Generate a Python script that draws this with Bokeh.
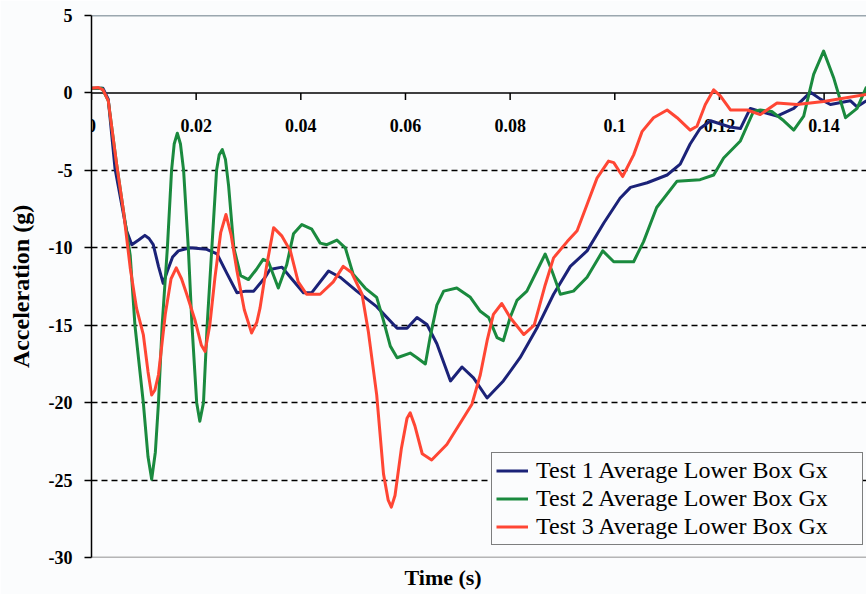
from bokeh.plotting import figure
from bokeh.models import FixedTicker, Span, Title
from bokeh.core.properties import value
from bokeh.embed import file_html
from bokeh.resources import INLINE

# ---------------- data ----------------
time_ticks = [0, 0.02, 0.04, 0.06, 0.08, 0.1, 0.12, 0.14]
time_tick_labels = ["0", "0.02", "0.04", "0.06", "0.08", "0.1", "0.12", "0.14"]
accel_ticks = [-30, -25, -20, -15, -10, -5, 0, 5]
accel_tick_labels = ["-30", "-25", "-20", "-15", "-10", "-5", "0", "5"]
time_max = 0.1481

series_names = ["Test 1 Average Lower Box Gx",
                "Test 2 Average Lower Box Gx",
                "Test 3 Average Lower Box Gx"]

t1_time = [0, 0.0022, 0.0032, 0.0045, 0.0067, 0.0077, 0.0090, 0.0102, 0.0110, 0.0118,
           0.0128, 0.0137, 0.0145, 0.0155, 0.0166, 0.0188, 0.0220, 0.0240, 0.0258, 0.0278,
           0.0295, 0.0310, 0.0332, 0.0341, 0.0364, 0.0380, 0.0405, 0.0421, 0.0453, 0.0475,
           0.0507, 0.0545, 0.0584, 0.0603, 0.0622, 0.0641, 0.0660, 0.0686, 0.0708, 0.0730,
           0.0756, 0.0787, 0.0819, 0.0851, 0.0883, 0.0915, 0.0947, 0.0979, 0.1010, 0.1030,
           0.1062, 0.1100, 0.1125, 0.1144, 0.1163, 0.1183, 0.1220, 0.1240, 0.1259, 0.1278,
           0.1310, 0.1342, 0.1374, 0.1393, 0.1412, 0.1450, 0.1463, 0.1481]
t1_acc = [0.3, 0.3, -0.4, -4.9, -8.9, -9.8, -9.5, -9.2, -9.4, -9.8,
          -11.2, -12.3, -11.5, -10.6, -10.2, -10.0, -10.1, -10.4, -11.6, -12.9,
          -12.8, -12.8, -11.9, -11.4, -11.25, -11.9, -12.9, -12.9, -11.5, -11.9,
          -12.8, -13.8, -15.2, -15.2, -14.5, -14.95, -16.2, -18.6, -17.7, -18.4,
          -19.7, -18.6, -17.1, -15.2, -13.0, -11.2, -10.2, -8.4, -6.8, -6.1,
          -5.8, -5.3, -4.6, -3.3, -2.3, -1.8, -2.2, -2.3, -1.0, -1.2,
          -1.5, -1.0, 0.05, -0.4, -0.75, -0.5, -0.9, -0.5]

t2_time = [0, 0.0020, 0.0032, 0.0048, 0.0061, 0.0074, 0.0083, 0.0099, 0.0108, 0.0115,
           0.0122, 0.0128, 0.0135, 0.0145, 0.0153, 0.0158, 0.0164, 0.0170, 0.0176, 0.0185,
           0.0192, 0.0201, 0.0207, 0.0214, 0.0221, 0.0230, 0.0239, 0.0244, 0.0250, 0.0256,
           0.0262, 0.0272, 0.0285, 0.0300, 0.0315, 0.0328, 0.0338, 0.0357, 0.0373, 0.0386,
           0.0402, 0.0421, 0.0437, 0.0450, 0.0469, 0.0485, 0.0500, 0.0523, 0.0545, 0.0558,
           0.0571, 0.0584, 0.0609, 0.0622, 0.0638, 0.0647, 0.0660, 0.0673, 0.0698, 0.0724,
           0.0743, 0.0759, 0.0775, 0.0787, 0.0800, 0.0813, 0.0832, 0.0851, 0.0867, 0.0880,
           0.0896, 0.0921, 0.0947, 0.0977, 0.0998, 0.1036, 0.1055, 0.1080, 0.1119, 0.1163,
           0.1189, 0.1208, 0.1240, 0.1265, 0.1278, 0.1300, 0.1323, 0.1342, 0.1361, 0.1380,
           0.1399, 0.1418, 0.1441, 0.1463, 0.1481]
t2_acc = [0.3, 0.3, -0.5, -4.6, -7.6, -10.5, -15.0, -20.0, -23.5, -24.95,
          -23.2, -20.0, -15.0, -10.0, -5.0, -3.3, -2.6, -3.3, -5.0, -10.0,
          -15.0, -20.0, -21.2, -20.0, -15.0, -10.0, -5.0, -4.0, -3.66, -4.3,
          -6.0, -10.0, -11.8, -12.05, -11.4, -10.75, -10.9, -12.6, -11.1, -9.1,
          -8.5, -8.8, -9.7, -9.8, -9.5, -10.0, -11.7, -12.6, -13.2, -14.7,
          -16.35, -17.1, -16.8, -17.1, -17.5, -15.8, -13.7, -12.8, -12.6, -13.2,
          -14.1, -14.5, -15.8, -16.0, -14.5, -13.4, -12.8, -11.5, -10.4, -11.5,
          -13.0, -12.8, -11.9, -10.2, -10.9, -10.9, -9.6, -7.4, -5.7, -5.6,
          -5.3, -4.2, -3.1, -1.2, -1.1, -1.2, -1.8, -2.4, -1.5, 1.2,
          2.7, 1.0, -1.6, -1.0, 0.4]

t3_time = [0, 0.0013, 0.0022, 0.0032, 0.0048, 0.0061, 0.0074, 0.0086, 0.0099, 0.0108,
           0.0115, 0.0121, 0.0128, 0.0141, 0.0152, 0.0162, 0.0172, 0.0182, 0.0198, 0.0210,
           0.0217, 0.0226, 0.0236, 0.0247, 0.0257, 0.0267, 0.0278, 0.0292, 0.0306, 0.0316,
           0.0322, 0.0335, 0.0348, 0.0364, 0.0380, 0.0395, 0.0411, 0.0437, 0.0462, 0.0481,
           0.0497, 0.0517, 0.0529, 0.0545, 0.0558, 0.0567, 0.0573, 0.0580, 0.0592, 0.0603,
           0.0609, 0.0618, 0.0632, 0.0650, 0.0679, 0.0705, 0.0727, 0.0743, 0.0756, 0.0768,
           0.0784, 0.0800, 0.0826, 0.0846, 0.0867, 0.0883, 0.0909, 0.0928, 0.0947, 0.0966,
           0.0988, 0.0998, 0.1015, 0.1036, 0.1052, 0.1074, 0.1100, 0.1119, 0.1144, 0.1157,
           0.1173, 0.1189, 0.1202, 0.1221, 0.1253, 0.1278, 0.1310, 0.1348, 0.1399, 0.1481]
t3_acc = [0.3, 0.35, 0.2, -0.5, -4.6, -7.6, -11.3, -13.9, -15.6, -18.0,
          -19.5, -19.2, -18.2, -14.3, -12.0, -11.3, -12.0, -13.0, -14.7, -16.3,
          -16.7, -15.0, -11.9, -9.0, -7.85, -9.2, -11.5, -14.0, -15.5, -14.8,
          -13.9, -11.1, -8.7, -9.25, -10.2, -12.2, -13.0, -13.0, -12.2, -11.2,
          -11.6, -13.0, -15.4, -19.5, -24.6, -26.3, -26.75, -26.0, -23.0, -21.0,
          -20.65, -21.5, -23.3, -23.7, -22.7, -21.3, -20.1, -18.2, -16.0, -14.3,
          -13.6, -14.5, -15.6, -15.0, -12.4, -10.65, -9.6, -8.9, -7.2, -5.5,
          -4.4, -4.5, -5.4, -4.0, -2.5, -1.6, -1.1, -1.6, -2.4, -2.15,
          -0.75, 0.2, -0.2, -1.1, -1.1, -1.4, -0.65, -0.75, -0.55, -0.1]

series_times = [t1_time, t2_time, t3_time]
series_accs = [t1_acc, t2_acc, t3_acc]
series_colors = ["#1b2278", "#1a8a3e", "#ff4634"]

# ---------------- figure ----------------
BG = "#fbfcfd"
SERIF = "Liberation Serif"

p = figure(width=866, height=594, output_backend="svg", toolbar_location=None,
           x_range=(time_ticks[0], time_max), y_range=(accel_ticks[0], accel_ticks[-1]),
           x_axis_location=None,
           background_fill_color=BG, border_fill_color=BG,
           min_border_left=91, min_border_right=0, min_border_top=15, min_border_bottom=37)
p.outline_line_color = None
p.xgrid.visible = False

# y axis
yax = p.yaxis[0]
yax.ticker = FixedTicker(ticks=accel_ticks)
yax.major_label_overrides = {t: s for t, s in zip(accel_ticks, accel_tick_labels)}
yax.major_label_text_font = SERIF
yax.major_label_text_font_style = "bold"
yax.major_label_text_font_size = "18px"
yax.major_label_text_color = "black"
yax.major_label_standoff = 12
yax.major_tick_in = 0
yax.major_tick_out = 7
yax.major_tick_line_width = 1.5
yax.minor_tick_in = 0
yax.minor_tick_out = 0
yax.axis_line_width = 1.5
yax.axis_line_color = "black"
yax.axis_label = "Acceleration (g)"
yax.axis_label_text_font = SERIF
yax.axis_label_text_font_style = "bold"
yax.axis_label_text_font_size = "24px"
yax.axis_label_text_color = "black"
yax.axis_label_standoff = 12

# dashed horizontal grid lines
p.ygrid.ticker = FixedTicker(ticks=[t for t in accel_ticks if accel_ticks[0] < t < 0])
p.ygrid.grid_line_color = "black"
p.ygrid.grid_line_dash = "6 4"
p.ygrid.grid_line_width = 1.6

# borders and zero axis
p.add_layout(Span(location=accel_ticks[-1], dimension="width", line_color="#3b5260",
                  line_width=1.5, level="underlay"))
p.add_layout(Span(location=accel_ticks[0], dimension="width", line_color="#6e6e6e",
                  line_width=1.5, level="underlay"))
p.add_layout(Span(location=0, dimension="width", line_color="black",
                  line_width=1.5, level="underlay"))

# x axis ticks and labels along y = 0
n = len(time_ticks)
p.segment(x0=time_ticks, y0=[0] * n, x1=time_ticks, y1=[-0.45] * n,
          line_color="black", line_width=1.5)
p.text(x=time_ticks, y=[0] * n, text=time_tick_labels,
       text_font=value(SERIF), text_font_style="bold", text_font_size="18px",
       text_color="black", text_align="center", text_baseline="middle", y_offset=33)

# series
for tt, aa, col, name in zip(series_times, series_accs, series_colors, series_names):
    p.line(tt, aa, line_color=col, line_width=3, line_join="round", legend_label=name)

leg = p.legend[0]
leg.location = (400, 12)
leg.label_text_font = SERIF
leg.label_text_font_size = "24px"
leg.label_text_color = "black"
leg.label_height = 27
leg.glyph_height = 27
leg.glyph_width = 32
leg.label_standoff = 8
leg.label_width = 322
leg.spacing = 1
leg.padding = 4
leg.margin = 0
leg.border_line_color = "black"
leg.border_line_width = 1.5
leg.background_fill_color = BG
leg.background_fill_alpha = 1

p.add_layout(Title(text="Time (s)", align="left", offset=313, text_font=SERIF,
                   text_font_size="22px", text_font_style="bold", text_color="black",
                   standoff=10), "below")

open("out.html", "w").write(file_html(p, INLINE))
